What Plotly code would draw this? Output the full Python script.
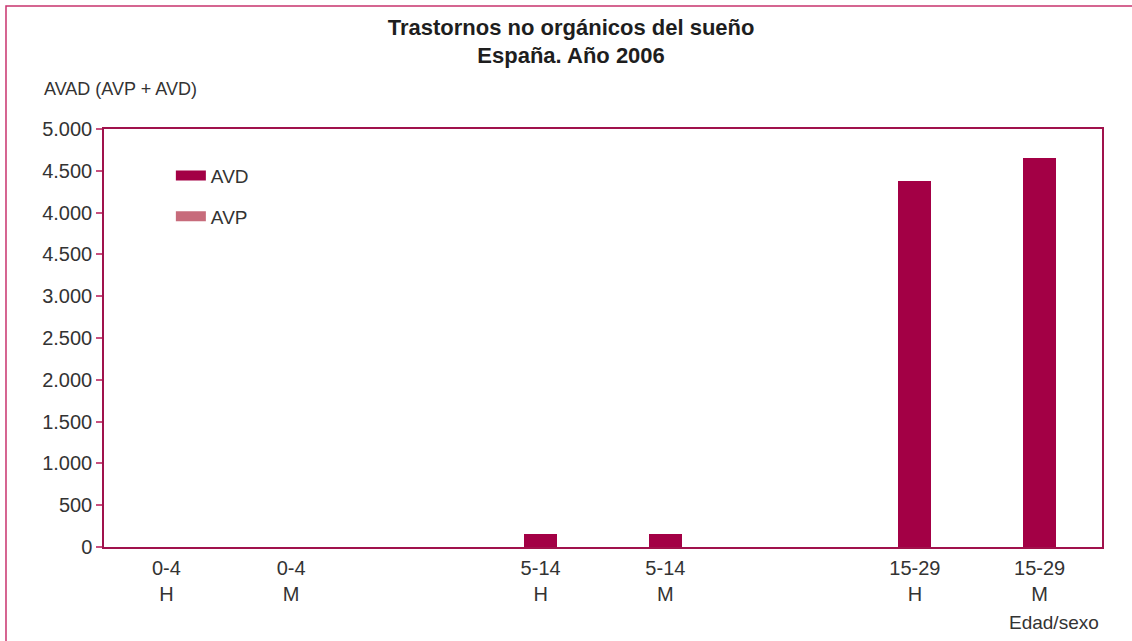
import plotly.graph_objects as go

# Data
age_groups = ["0-4", "0-4", "5-14", "5-14", "15-29", "15-29"]
sexes = ["H", "M", "H", "M", "H", "M"]
avd_values = [0, 0, 155, 155, 4380, 4655]
avp_values = [0, 0, 0, 0, 0, 0]
y_tick_values = [0, 500, 1000, 1500, 2000, 2500, 3000, 3500, 4000, 4500, 5000]
y_tick_labels = ["0", "500", "1.000", "1.500", "2.000", "2.500", "3.000",
                 "4.500", "4.000", "4.500", "5.000"]

categories = [f"{a}<br>{s}" for a, s in zip(age_groups, sexes)]
# category order with empty spacer slots between age groups
category_order = categories[0:2] + [" "] + categories[2:4] + ["  "] + categories[4:6]

AVD_COLOR = "#A30045"
AVP_COLOR = "#C76B7B"
AXIS_COLOR = "#A0124C"
FONT = "Liberation Sans Narrow, Liberation Sans, Arial, sans-serif"
TEXT_COLOR = "#333333"

fig = go.Figure()
fig.add_trace(go.Bar(x=categories, y=avd_values, name="AVD",
                     marker=dict(color=AVD_COLOR, line=dict(width=0)),
                     width=0.265, legendgroup="AVD", showlegend=False))
fig.add_trace(go.Bar(x=categories, y=avp_values, name="AVP",
                     marker=dict(color=AVP_COLOR, line=dict(width=0)),
                     width=0.265, legendgroup="AVP", showlegend=False))
# legend entries (wide swatches)
fig.add_trace(go.Scatter(x=[None], y=[None], mode="lines", name="AVD",
                         line=dict(color=AVD_COLOR, width=15), legendgroup="AVD"))
fig.add_trace(go.Scatter(x=[None], y=[None], mode="lines", name="AVP",
                         line=dict(color=AVP_COLOR, width=15), legendgroup="AVP"))

fig.update_layout(
    width=1132, height=641,
    margin=dict(l=104, r=30, t=129, b=94),
    paper_bgcolor="white", plot_bgcolor="white",
    barmode="stack",
    font=dict(family=FONT, size=19, color=TEXT_COLOR),
    title=dict(text="<b>Trastornos no orgánicos del sueño<br>España. Año 2006</b>",
               x=0.5045, xanchor="center", y=0.946, yanchor="top",
               font=dict(family="Liberation Sans, Arial, sans-serif", size=22, color="#1e1e1e")),
    legend=dict(x=0.067, y=0.934, xanchor="left", yanchor="top",
                bgcolor="rgba(0,0,0,0)", tracegroupgap=13,
                font=dict(family=FONT, size=19, color=TEXT_COLOR),
                itemwidth=30),
    xaxis=dict(type="category", categoryorder="array", categoryarray=category_order,
               range=[-0.5, 7.5], showline=True, linecolor=AXIS_COLOR, linewidth=1.5,
               mirror=True, ticks="", showgrid=False, zeroline=False,
               ticklabelstandoff=2,
               tickfont=dict(family=FONT, size=20, color=TEXT_COLOR)),
    yaxis=dict(range=[0, 5000], tickvals=y_tick_values, ticktext=y_tick_labels,
               showline=True, linecolor=AXIS_COLOR, linewidth=1.5, mirror=True,
               ticks="outside", ticklen=6, tickcolor="#C8507E", tickwidth=1.5,
               showgrid=False, zeroline=False,
               tickfont=dict(family=FONT, size=20, color=TEXT_COLOR)),
    annotations=[
        dict(text="AVAD (AVP + AVD)", xref="paper", yref="paper", x=-0.0622, y=1.067,
             xanchor="left", yanchor="bottom", showarrow=False,
             font=dict(family=FONT, size=18, color=TEXT_COLOR)),
        dict(text="Edad/sexo", xref="paper", yref="paper", x=0.999, y=-0.150,
             xanchor="right", yanchor="top", showarrow=False,
             font=dict(family=FONT, size=19, color=TEXT_COLOR)),
    ],
    shapes=[
        dict(type="rect", xref="paper", yref="paper", x0=-0.0982, x1=1.2, y0=-0.4, y1=1.294,
             line=dict(color="#C8336E", width=1.5), layer="below"),
    ],
)

fig.write_html("out.html", config={"displayModeBar": False},
               post_script="document.body.style.margin='0';document.body.style.overflow='hidden';")
